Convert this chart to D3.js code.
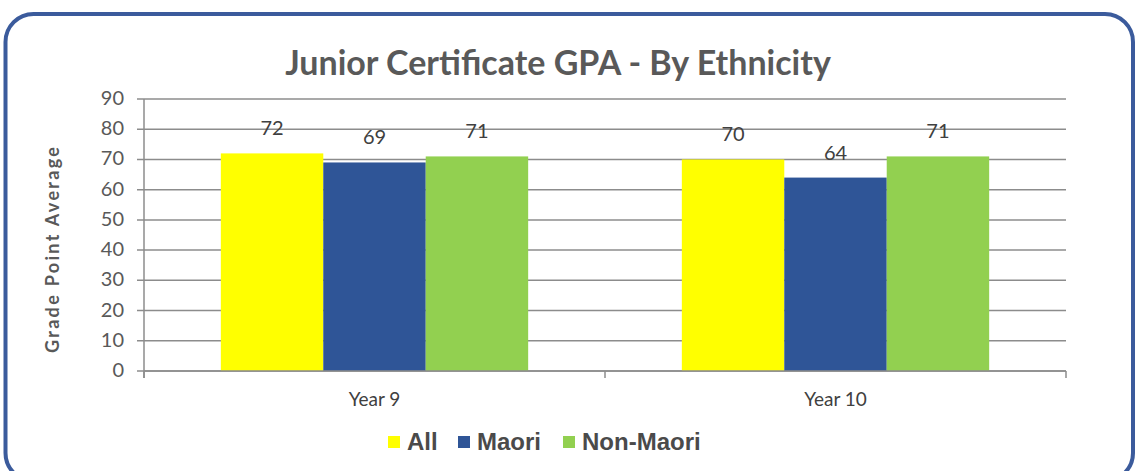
<!DOCTYPE html>
<html>
<head>
<meta charset="utf-8">
<script src="https://cdn.jsdelivr.net/npm/d3@7"></script>
<style>
  body { margin: 0; background: #fff; }
  svg { display: block; }
</style>
</head>
<body>
<div id="chart"></div>
<script>
const categories = ['Year 9', 'Year 10'];
const seriesNames = ['All', 'Maori', 'Non-Maori'];
const allValues = [72, 70];
const maoriValues = [69, 64];
const nonMaoriValues = [71, 71];
const yTicks = [0, 10, 20, 30, 40, 50, 60, 70, 80, 90];
const colors = ['#ffff00', '#2f5597', '#92d050'];

const width = 1137, height = 471;
const seriesValues = [allValues, maoriValues, nonMaoriValues];

const svg = d3.select('#chart').append('svg')
    .attr('width', width)
    .attr('height', height);

// rounded frame
svg.append('rect')
    .attr('x', 5.5).attr('y', 14)
    .attr('width', 1127.5).attr('height', 467)
    .attr('rx', 28).attr('ry', 28)
    .attr('fill', '#fff')
    .attr('stroke', '#3b5b9c')
    .attr('stroke-width', 4);

const font = 'Lato, "Open Sans", sans-serif';

svg.append('text')
    .attr('x', 558).attr('y', 75)
    .attr('text-anchor', 'middle')
    .attr('font-family', font)
    .attr('font-weight', 'bold')
    .attr('font-size', 34)
    .attr('fill', '#595959')
    .text('Junior Certificate GPA - By Ethnicity');

const plotLeft = 144, plotRight = 1066, plotTop = 99, plotBottom = 371;

const x = d3.scaleBand().domain(categories).range([plotLeft, plotRight]);
const xs = d3.scaleBand().domain(seriesNames).range([0, x.bandwidth()]).paddingOuter(0.75).paddingInner(0);
const y = d3.scaleLinear().domain([0, 90]).range([plotBottom, plotTop]);

// gridlines
svg.append('g')
    .selectAll('line')
    .data(yTicks)
    .join('line')
    .attr('x1', plotLeft - 7).attr('x2', plotRight)
    .attr('y1', d => y(d)).attr('y2', d => y(d))
    .attr('stroke', '#8c8c8c')
    .attr('stroke-width', 1.5);

// y axis line
svg.append('line')
    .attr('x1', plotLeft).attr('x2', plotLeft)
    .attr('y1', plotTop).attr('y2', plotBottom + 7)
    .attr('stroke', '#8c8c8c').attr('stroke-width', 1.5);

svg.append('g')
    .selectAll('text')
    .data(yTicks)
    .join('text')
    .attr('x', 124)
    .attr('y', d => y(d) + 6)
    .attr('text-anchor', 'end')
    .attr('font-family', font)
    .attr('font-size', 20)
    .attr('fill', '#595959')
    .text(d => d);

svg.append('text')
    .attr('transform', 'translate(59,250) rotate(-90)')
    .attr('text-anchor', 'middle')
    .attr('font-family', font)
    .attr('font-weight', 'bold')
    .attr('font-size', 18)
    .attr('textLength', 206)
    .attr('lengthAdjust', 'spacing')
    .attr('fill', '#595959')
    .text('Grade Point Average');

// bars
const groups = svg.append('g')
    .selectAll('g')
    .data(categories)
    .join('g')
    .attr('transform', d => 'translate(' + x(d) + ',0)');

groups.selectAll('rect')
    .data((d, i) => seriesNames.map((s, j) => ({ s: s, v: seriesValues[j][i], c: colors[j] })))
    .join('rect')
    .attr('x', d => xs(d.s))
    .attr('width', xs.bandwidth())
    .attr('y', d => y(d.v))
    .attr('height', d => plotBottom - y(d.v))
    .attr('fill', d => d.c);

groups.selectAll('text')
    .data((d, i) => seriesNames.map((s, j) => ({ s: s, v: seriesValues[j][i] })))
    .join('text')
    .attr('x', d => xs(d.s) + xs.bandwidth() / 2)
    .attr('y', d => y(d.v) - 18)
    .attr('text-anchor', 'middle')
    .attr('font-family', font)
    .attr('font-size', 20)
    .attr('fill', '#404040')
    .text(d => d.v);

// x axis
svg.append('line')
    .attr('x1', plotLeft).attr('x2', plotRight)
    .attr('y1', plotBottom).attr('y2', plotBottom)
    .attr('stroke', '#8c8c8c').attr('stroke-width', 1.5);

svg.append('g')
    .selectAll('line')
    .data([plotLeft, plotLeft + x.bandwidth(), plotRight])
    .join('line')
    .attr('x1', d => d).attr('x2', d => d)
    .attr('y1', plotBottom).attr('y2', plotBottom + 7)
    .attr('stroke', '#8c8c8c').attr('stroke-width', 1.5);

svg.append('g')
    .selectAll('text')
    .data(categories)
    .join('text')
    .attr('x', d => x(d) + x.bandwidth() / 2)
    .attr('y', 406)
    .attr('text-anchor', 'middle')
    .attr('font-family', font)
    .attr('font-size', 19)
    .attr('fill', '#404040')
    .text(d => d);

// legend
const legendX = [388, 458, 563];
const legend = svg.append('g')
    .selectAll('g')
    .data(seriesNames)
    .join('g')
    .attr('transform', (d, i) => 'translate(' + legendX[i] + ',442)');

legend.append('rect')
    .attr('x', 0).attr('y', -6)
    .attr('width', 12).attr('height', 12)
    .attr('fill', (d, i) => colors[i]);

legend.append('text')
    .attr('x', 19).attr('y', 7.5)
    .attr('font-family', '"Liberation Sans", Arial, sans-serif')
    .attr('font-weight', 'bold')
    .attr('font-size', 24)
    .attr('fill', '#4a4a4a')
    .text(d => d);
</script>
</body>
</html>
